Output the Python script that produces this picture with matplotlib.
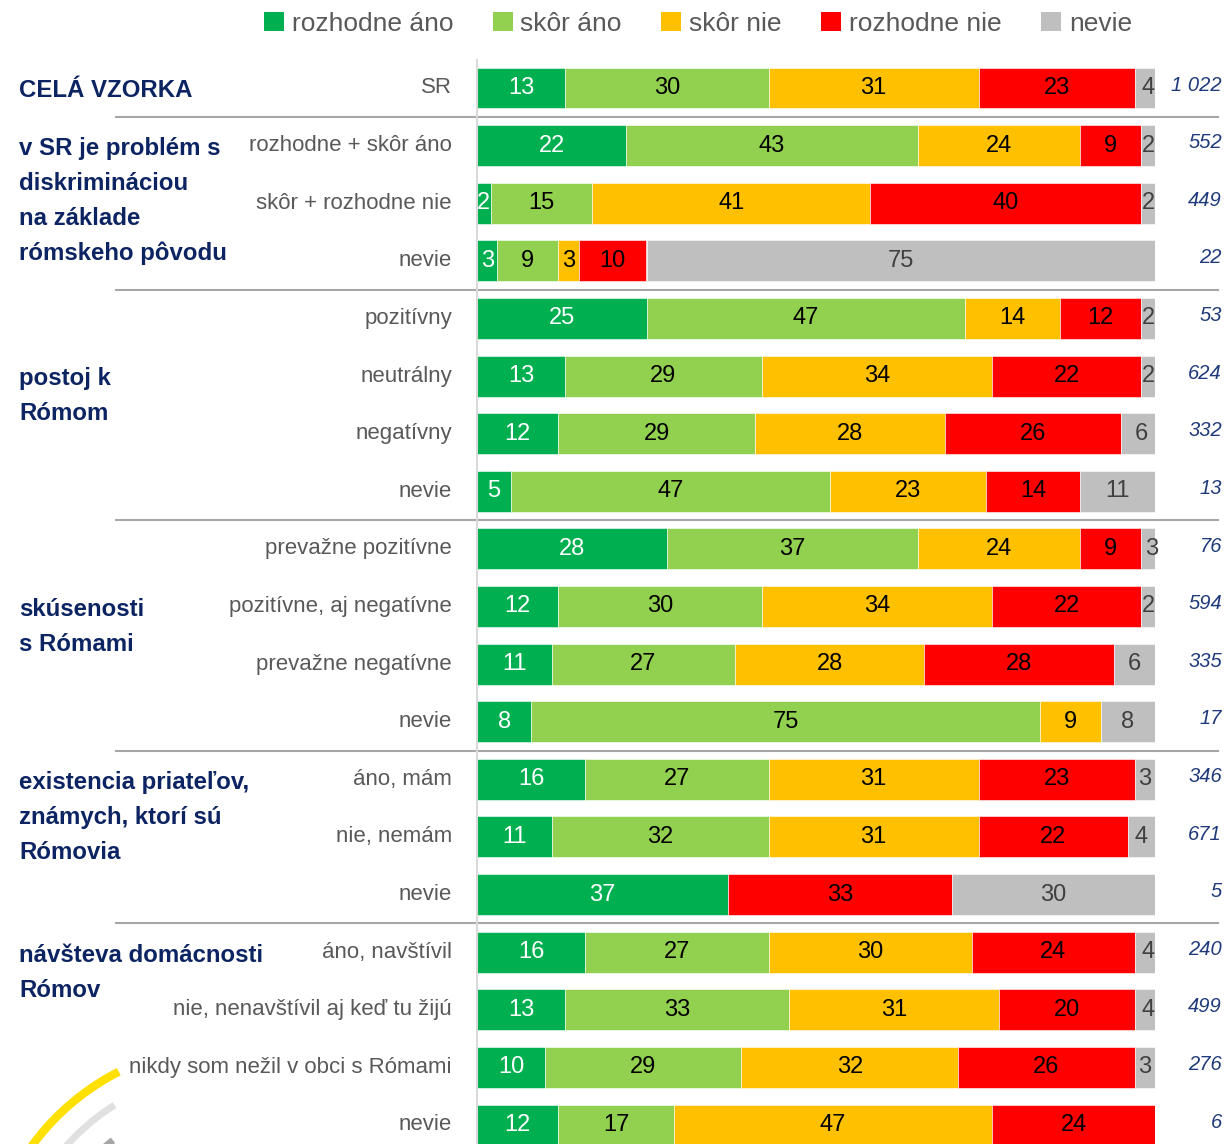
import matplotlib.pyplot as plt
import matplotlib.transforms as mtransforms
from matplotlib.patches import Arc, Patch

plt.rcParams['font.family'] = ['Liberation Sans Narrow', 'Liberation Sans', 'DejaVu Sans']

# answer categories and colours
answers = ["rozhodne áno", "skôr áno", "skôr nie", "rozhodne nie", "nevie"]
colors = ["#00B050", "#92D050", "#FFC000", "#FF0000", "#BFBFBF"]
text_colors = ["white", "black", "black", "black", "#404040"]

# rows (top to bottom)
rows = ["SR",
        "rozhodne + skôr áno", "skôr + rozhodne nie", "nevie",
        "pozitívny", "neutrálny", "negatívny", "nevie",
        "prevažne pozitívne", "pozitívne, aj negatívne", "prevažne negatívne", "nevie",
        "áno, mám", "nie, nemám", "nevie",
        "áno, navštívil", "nie, nenavštívil aj keď tu žijú",
        "nikdy som nežil v obci s Rómami", "nevie"]

rozhodne_ano = [13, 22, 2, 3, 25, 13, 12, 5, 28, 12, 11, 8, 16, 11, 37, 16, 13, 10, 12]
skor_ano     = [30, 43, 15, 9, 47, 29, 29, 47, 37, 30, 27, 75, 27, 32, 0, 27, 33, 29, 17]
skor_nie     = [31, 24, 41, 3, 14, 34, 28, 23, 24, 34, 28, 9, 31, 31, 0, 30, 31, 32, 47]
rozhodne_nie = [23, 9, 40, 10, 12, 22, 26, 14, 9, 22, 28, 0, 23, 22, 33, 24, 20, 26, 24]
nevie        = [4, 2, 2, 75, 2, 2, 6, 11, 3, 2, 6, 8, 3, 4, 30, 4, 4, 3, 0]

counts = ["1 022", "552", "449", "22", "53", "624", "332", "13", "76", "594",
          "335", "17", "346", "671", "5", "240", "499", "276", "6"]

# groups: first row index and label lines
group_start = [0, 1, 5, 9, 12, 15]
group_lines = [["CELÁ VZORKA"],
               ["v SR je problém s", "diskrimináciou", "na základe", "rómskeho pôvodu"],
               ["postoj k", "Rómom"],
               ["skúsenosti", "s Rómami"],
               ["existencia priateľov,", "známych, ktorí sú", "Rómovia"],
               ["návšteva domácnosti", "Rómov"]]
separators_after = [0, 3, 7, 11, 14]

W, H = 1229, 1144
fig = plt.figure(figsize=(W / 100, H / 100), dpi=100)
ax = fig.add_axes([477 / W, 0, 678 / W, 1 - 60 / H])

series = [rozhodne_ano, skor_ano, skor_nie, rozhodne_nie, nevie]
n = len(rows)
ypos = list(range(n))
left = [0] * n
for vals, col, tcol in zip(series, colors, text_colors):
    ax.barh(ypos, vals, left=left, height=0.71, color=col, edgecolor="white", linewidth=0.4)
    for i, v in enumerate(vals):
        if v > 0:
            ax.text(left[i] + v / 2, i, str(v), ha="center", va="center",
                    fontsize=17, color=tcol)
    left = [l + v for l, v in zip(left, vals)]

ax.set_xlim(0, 100)
ax.set_ylim(18.33, -0.486)
ax.set_xticks([])
ax.set_yticks([])
for s in ["top", "right", "bottom"]:
    ax.spines[s].set_visible(False)
ax.spines["left"].set_color("#D9D9D9")
ax.spines["left"].set_linewidth(1.5)

trans = mtransforms.blended_transform_factory(ax.transAxes, ax.transData)

# row labels and counts
for i, (lab, c) in enumerate(zip(rows, counts)):
    ax.text(-0.037, i, lab, transform=trans, ha="right", va="center",
            fontsize=16, color="#595959")
    ax.text(1.099, i - 0.05, c, transform=trans, ha="right", va="center",
            fontsize=14.5, color="#1F3A7A", style="italic")

# group labels
for start, lines in zip(group_start, group_lines):
    for k, line in enumerate(lines):
        ax.text(-0.675, start + 0.05 + k * 0.607, line, transform=trans, ha="left",
                va="center", fontsize=17.3, color="#0D2463", fontweight="bold")

# separator lines
for r in separators_after:
    ax.plot([-0.532, 1.093], [r + 0.5, r + 0.5], transform=trans, color="#A6A6A6",
            linewidth=1.5, clip_on=False)

# legend
handles = [Patch(facecolor=c, edgecolor="none") for c in colors]
leg = fig.legend(handles, answers, loc="center", bbox_to_anchor=(698 / W, 1 - 24 / H),
                 ncol=5, frameon=False, fontsize=19, handlelength=0.75, handleheight=0.75,
                 handletextpad=0.3, columnspacing=1.5)
for t in leg.get_texts():
    t.set_color("#595959")

# logo arcs in the bottom-left corner
fig.add_artist(Arc((230, -146), 490, 490, theta1=117, theta2=160,
                   transform=None, color="#FFE000", linewidth=6, clip_on=False))
fig.add_artist(Arc((230, -146), 436, 436, theta1=122, theta2=160,
                   transform=None, color="#E0E0E0", linewidth=5, clip_on=False))
fig.add_artist(Arc((230, -146), 380, 380, theta1=128, theta2=160,
                   transform=None, color="#A6A6A6", linewidth=5, clip_on=False))

fig.savefig("out.png", dpi=100)
